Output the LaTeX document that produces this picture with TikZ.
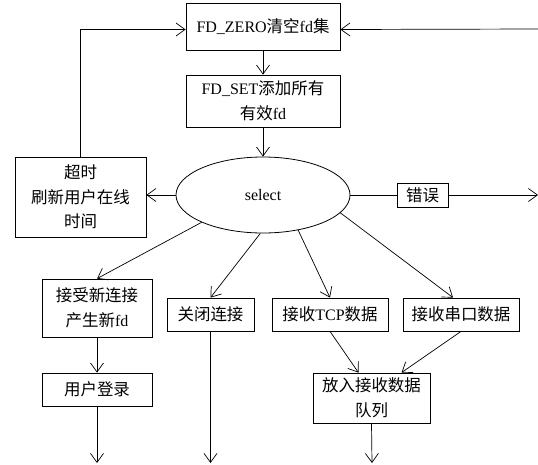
\documentclass[tikz,border=0pt]{standalone}
\usepackage{fontspec}
\setmainfont{Liberation Serif}
\newfontfamily\cjk[Scale=1.03]{Noto Sans CJK SC}
\newcommand\zhtxt[1]{{\cjk #1}}
\usetikzlibrary{arrows.meta,shapes.geometric}
\begin{document}
\begin{tikzpicture}[x=1pt,y=-1pt,
  box/.style={draw,line width=0.8pt,inner sep=0pt,align=center,font=\fontsize{16}{24.5}\selectfont},
  arr/.style={line width=0.7pt,-{Straight Barb[length=9pt,width=13pt,line width=0.7pt]}},
  ln/.style={line width=0.7pt}]
\useasboundingbox (0,0) rectangle (538,464);
\node[box,minimum width=154pt,minimum height=47pt] (zero) at (263,26.5) {FD\_ZERO\zhtxt{清空}fd\zhtxt{集}};
\node[box,minimum width=154pt,minimum height=52pt] (set) at (263,101) {FD\_SET\zhtxt{添加所有}\\\zhtxt{有效}fd};
\node[box,ellipse,minimum width=174pt,minimum height=76pt] (sel) at (263,195) {select};
\node[box,minimum width=131pt,minimum height=80pt] (tout) at (80.5,197) {\zhtxt{超时}\\\zhtxt{刷新用户在线}\\\zhtxt{时间}};
\node[box,minimum width=51pt,minimum height=24pt] (err) at (422.5,195) {\zhtxt{错误}};
\node[box,minimum width=110pt,minimum height=58pt] (acc) at (97,308) {\zhtxt{接受新连接}\\\zhtxt{产生新}fd};
\node[box,minimum width=87pt,minimum height=33pt] (close) at (210.5,314.5) {\zhtxt{关闭连接}};
\node[box,minimum width=116pt,minimum height=33pt] (tcp) at (330,314.5) {\zhtxt{接收}TCP\zhtxt{数据}};
\node[box,minimum width=116pt,minimum height=33pt] (ser) at (461,314.5) {\zhtxt{接收串口数据}};
\node[box,minimum width=110pt,minimum height=33pt] (login) at (97,389.5) {\zhtxt{用户登录}};
\node[box,minimum width=117pt,minimum height=50pt] (queue) at (371.5,398) {\zhtxt{放入接收数据}\\\zhtxt{队列}};
\coordinate (rt) at (538,29);
\coordinate (errend) at (538,195);
\coordinate (e1) at (97,463);
\coordinate (e2) at (210.5,463);
\coordinate (e3) at (372,463);
\draw[arr] (zero.south) -- (set.north);
\draw[arr] (set.south) -- (sel.north);
\draw[arr] (sel.west) -- (tout.east |- sel.west);
\draw[arr] (tout.north) |- ([yshift=-3pt]zero.west);
\draw[arr] (rt) -- ([yshift=-3pt]zero.east);
\draw[ln] (sel.east) -- (err.west);
\draw[arr] (err.east) -- (errend);
\draw[arr] (sel.204) -- (acc.north);
\draw[arr] (sel.266) -- (close.north);
\draw[arr] (sel.315) -- (tcp.north);
\draw[arr] (sel.347) -- ([xshift=-8pt]ser.north);
\draw[arr] (acc.south) -- (login.north);
\draw[arr] (tcp.south) -- ([xshift=-13pt]queue.north);
\draw[arr] (ser.south) -- ([xshift=30pt]queue.north);
\draw[arr] (login.south) -- (e1);
\draw[arr] (close.south) -- (e2);
\draw[arr] (queue.south) -- (e3);
\end{tikzpicture}
\end{document}
